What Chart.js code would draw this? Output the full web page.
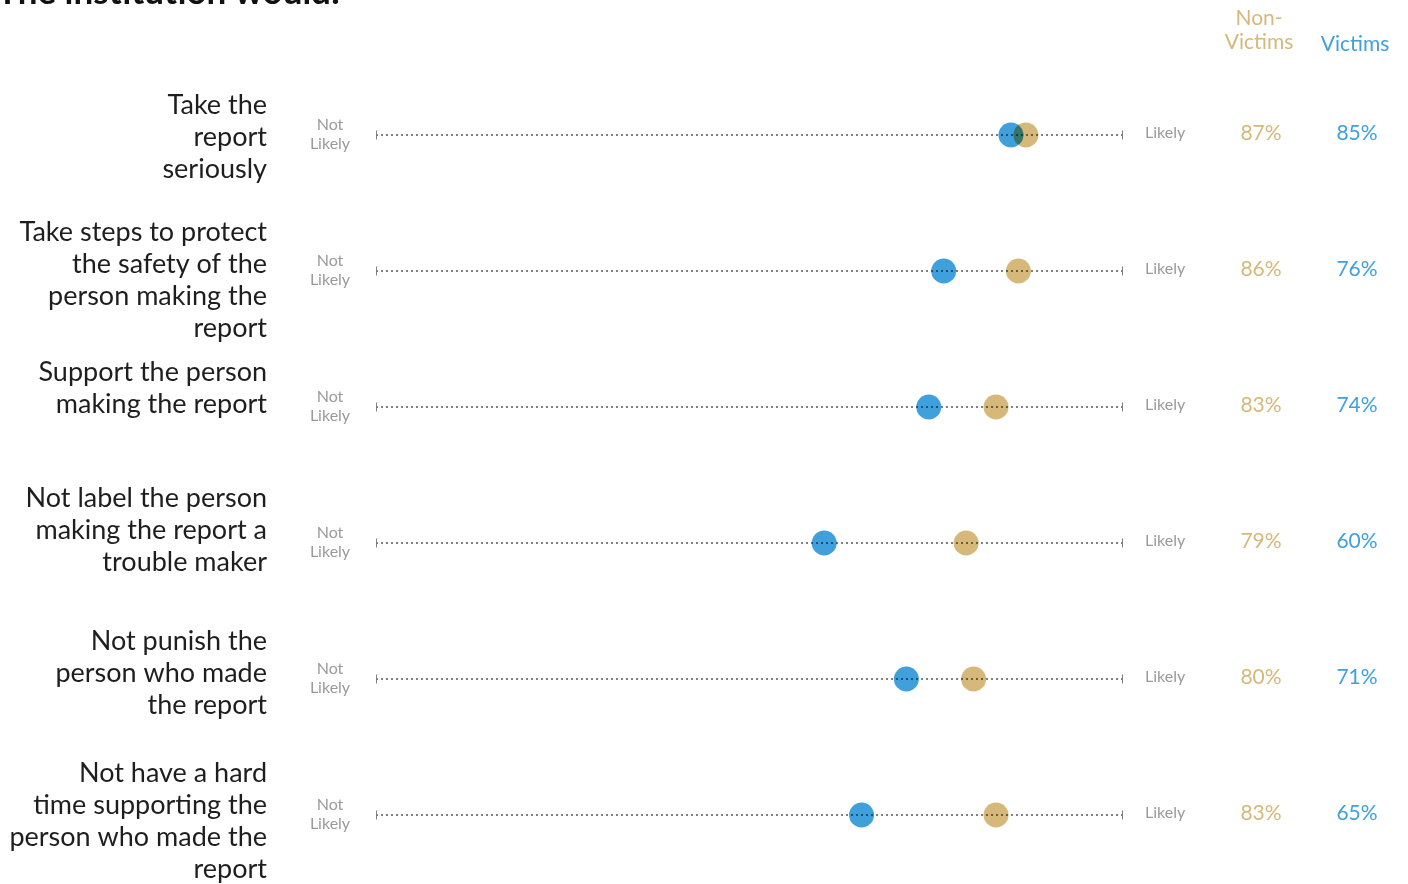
<!DOCTYPE html>
<html>
<head>
<meta charset="utf-8">
<script src="https://cdn.jsdelivr.net/npm/chart.js@4/dist/chart.umd.min.js"></script>
<style>
  html, body { margin: 0; padding: 0; background: #fff; overflow: hidden; }
  canvas { display: block; }
</style>
</head>
<body>
<canvas id="chartDots" width="1408" height="884"></canvas>
<script>
// row labels (one entry per line)
const categories = [
  ['Take the', 'report', 'seriously'],
  ['Take steps to protect', 'the safety of the', 'person making the', 'report'],
  ['Support the person', 'making the report'],
  ['Not label the person', 'making the report a', 'trouble maker'],
  ['Not punish the', 'person who made', 'the report'],
  ['Not have a hard', 'time supporting the', 'person who made the', 'report']
];
const nonVictims = [87, 86, 83, 79, 80, 83];
const victims = [85, 76, 74, 60, 71, 65];
const axisEnds = [0, 100];

const BLUE = 'rgb(64,160,220)';
const GOLD = 'rgb(214,184,122)';
const GRAY_TXT = '#9a9a9a';
const FONT = 'Lato, "Open Sans", sans-serif';

// dotted track per row, with small end ticks
const trackSets = categories.map((_, i) => ({
  type: 'line',
  data: axisEnds.map(x => ({ x, y: i })),
  borderColor: '#808080',
  borderWidth: 2,
  borderDash: [2, 3],
  pointStyle: 'line',
  rotation: 90,
  pointRadius: 4.5,
  pointBorderWidth: 2,
  pointBorderColor: '#808080',
  order: 2
}));

const dotSet = (vals, color) => ({
  type: 'scatter',
  data: vals.map((x, i) => ({ x, y: i })),
  backgroundColor: color,
  borderWidth: 0,
  pointRadius: 12.5,
  pointHoverRadius: 12.5,
  multiply: true,
  order: 1
});

// dots are blended with multiply so overlaps darken
const blendPlugin = {
  id: 'blend',
  beforeDatasetDraw(chart, args) {
    if (args.meta._dataset.multiply) {
      chart.ctx.save();
      chart.ctx.globalCompositeOperation = 'multiply';
    }
  },
  afterDatasetDraw(chart, args) {
    if (args.meta._dataset.multiply) chart.ctx.restore();
  }
};

const textPlugin = {
  id: 'sideText',
  afterDraw(chart, _, opts) {
    const ctx = chart.ctx;
    const y = chart.scales.y;
    ctx.save();

    // title, mostly scrolled off the top
    ctx.fillStyle = '#111';
    ctx.font = `bold 35px ${FONT}`;
    ctx.textAlign = 'left';
    ctx.textBaseline = 'alphabetic';
    ctx.fillText('The institution would:', -3, 4);

    // column headers
    ctx.textAlign = 'center';
    ctx.textBaseline = 'middle';
    ctx.font = `21px ${FONT}`;
    ctx.fillStyle = GOLD;
    ctx.fillText('Non-', 1259, 18);
    ctx.fillText('Victims', 1259, 42);
    ctx.fillStyle = BLUE;
    ctx.fillText('Victims', 1355, 44);

    categories.forEach((lines, i) => {
      const py = y.getPixelForValue(i);

      ctx.fillStyle = '#1e1e1e';
      ctx.font = `27px ${FONT}`;
      ctx.textAlign = 'right';
      lines.forEach((ln, k) => ctx.fillText(ln, 267, py + opts.labelTop[i] + k * 32));

      ctx.fillStyle = GRAY_TXT;
      ctx.font = `16px ${FONT}`;
      ctx.textAlign = 'center';
      ctx.fillText('Not', 330, py - 10);
      ctx.fillText('Likely', 330, py + 9);
      ctx.textAlign = 'left';
      ctx.fillText('Likely', 1145, py - 2);

      ctx.font = `21px ${FONT}`;
      ctx.textAlign = 'center';
      ctx.fillStyle = GOLD;
      ctx.fillText(nonVictims[i] + '%', 1261, py - 2);
      ctx.fillStyle = BLUE;
      ctx.fillText(victims[i] + '%', 1357, py - 2);
    });
    ctx.restore();
  }
};

new Chart(document.getElementById('chartDots'), {
  data: {
    datasets: [...trackSets, dotSet(nonVictims, GOLD), dotSet(victims, BLUE)]
  },
  options: {
    responsive: false,
    animation: false,
    layout: { autoPadding: false, padding: { left: 376, right: 285, top: 67, bottom: 1 } },
    plugins: {
      legend: { display: false },
      tooltip: { enabled: false },
      sideText: { labelTop: [-30, -39, -35, -45, -38, -42] }
    },
    scales: {
      x: { type: 'linear', min: 0, max: 100, display: false },
      y: { type: 'linear', min: -0.5, max: 5.5, reverse: true, display: false }
    }
  },
  plugins: [blendPlugin, textPlugin]
});
</script>
</body>
</html>
